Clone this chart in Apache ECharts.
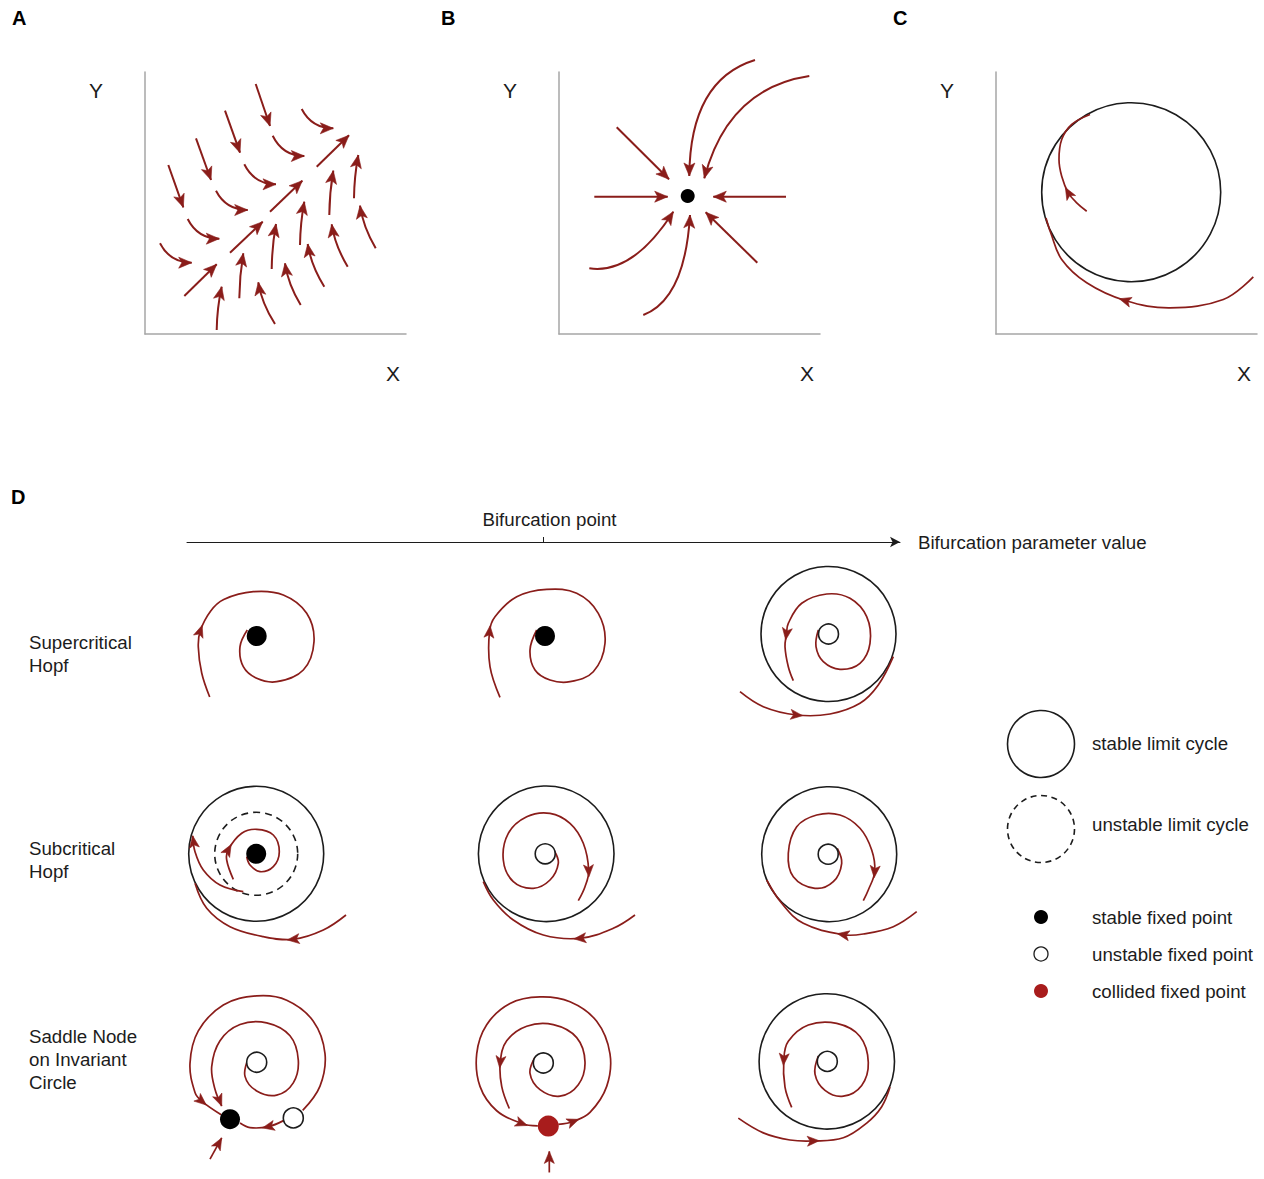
<!DOCTYPE html>
<html>
<head>
<meta charset="utf-8">
<title>Phase portraits and bifurcations</title>
<script src="https://cdn.jsdelivr.net/npm/echarts@6/dist/echarts.min.js"></script>
<style>
  html, body { margin: 0; padding: 0; background: #ffffff; }
  #chart { width: 1264px; height: 1179px; }
</style>
</head>
<body>
<div id="chart"></div>
<script>
// ---------------------------------------------------------------------------
// Data: every curve lives in the phase-plane units of its own panel
// (panels A-C: distance from the axis origin; panel D: offset from the cell
// centre, y pointing up).
// ---------------------------------------------------------------------------

// Panel A – flow field converging onto the diagonal (start, control, end)
const flowA = [
  [39.3, 38, 55.5, 53.9, 71.7, 69.7],
  [85, 81.3, 101.4, 96.8, 117.7, 112.3],
  [125, 122.3, 141.2, 137.8, 157.3, 153.3],
  [171.7, 167.3, 187.9, 183, 204, 198.7],
  [23.3, 169, 30.8, 147.9, 38.3, 126.7],
  [51, 195.7, 58.5, 174.9, 66, 154],
  [80, 223.3, 87.5, 202.3, 95, 181.3],
  [110.7, 250, 117.9, 229, 125, 208],
  [15, 90.7, 25, 71.3, 46.7, 71.3],
  [42.7, 115, 52.7, 95.3, 74.3, 95.3],
  [71, 143.3, 81, 124, 102.7, 124],
  [99.3, 169.7, 109.3, 149.7, 131, 149.7],
  [127.7, 198.3, 137.7, 178, 159.3, 178],
  [156.7, 225, 166.7, 205.7, 188.3, 205.7],
  [71.7, 4, 72, 26, 76.7, 47.3],
  [94.3, 35.7, 94.5, 58, 98.3, 80.7],
  [126.7, 65, 127, 88, 131, 110],
  [155, 89, 155.3, 111, 159.3, 132.3],
  [184.3, 119, 184.5, 141, 188.3, 163.3],
  [209, 135.7, 209.2, 157, 213.3, 179],
  [130, 10, 116.6, 31, 113.3, 51.7],
  [155.7, 29, 143.1, 49.8, 140, 70.7],
  [179.3, 47.3, 166, 68.6, 162.7, 90],
  [202.7, 67.3, 189.9, 88.5, 186.7, 109.7],
  [230.7, 85.7, 218.1, 107, 215, 128.3]
];

// Panel B – trajectories into a stable node
const flowB = [
  [35.3, 137.3, 72, 137.3, 108.7, 137.3],
  [227, 137.3, 190.7, 137.3, 154.3, 137.3],
  [57.7, 206.7, 83.9, 180.7, 110, 154.7],
  [198.3, 71.3, 172.5, 96.5, 146.7, 121.7],
  [196, 274, 131, 254, 130.3, 158],
  [250.3, 258, 168.7, 245.6, 145.3, 155.7],
  [30.3, 65.7, 73.8, 59.3, 114.3, 122.3],
  [84.3, 19, 126, 35, 131, 119]
];
const nodeB = [128.7, 138];

// Panel C – stable limit cycle approached from inside and outside
const cycleC = [135.2, 141.8, 89.5];
const innerC = [[90.7, 122.8], [80.7, 131.2], [72.3, 141.2], [65.7, 157.8], [63, 174.5], [65.7, 194.5], [75.7, 209.5], [94, 219.5]];
const outerC = [[257.3, 57.2], [227.3, 34.5], [174, 26.2], [129, 33.5], [90.7, 51.2], [65.7, 74.5], [54.7, 101.2], [50, 116]];

// Panel D – Supercritical Hopf
const supH1Spiral = [[-47, -61], [-55, -37], [-58.4, -11], [-56.5, 5], [-46, 25], [-33, 36.5], [-3.4, 44.3], [26.6, 41], [50, 22.7], [57.3, -5.7], [46.6, -34], [20, -45.7], [0, -42.3], [-13.4, -30.7], [-16.7, -10.7], [-9.4, 6]];
const supH2Spiral = [[-45, -61.3], [-55, -30.7], [-55.5, 4.3], [-50, 19.3], [-28.3, 39.3], [1.7, 46.7], [31.7, 42.7], [53.3, 22.7], [60, -7.3], [48.3, -35.7], [25, -45.7], [5, -44], [-10, -34], [-15, -14], [-8.3, 6]];
const supH3Spiral = [[-10.2, 4], [-12.5, -12.7], [-5.2, -27.7], [11.5, -35.3], [31.5, -29.3], [41.5, -9.3], [38.2, 17.3], [21.5, 35.7], [-1.8, 40], [-26.8, 30.7], [-40.2, 10.7], [-42, 0], [-43.5, -12.7], [-40.2, -32.7], [-35.2, -46.7]];
const supH3Outer = [[-88.5, -57.7], [-65.2, -72.7], [-31.8, -81], [1.5, -80], [31.5, -69.3], [49.8, -51], [64.8, -22.7]];

// Panel D – Subcritical Hopf
const subH1Inner = [[-22.9, -25.5], [-29.5, -6.2], [-28, 4], [-14.5, 20.5], [0.5, 24.5], [17.1, 18.8], [23.1, 2.1], [17.1, -12.9], [3.8, -17.9], [-6.2, -11.2], [-9.5, -2.9]];
const subH1Middle = [[-12.9, -37.9], [-36.2, -31.2], [-52.9, -16.2], [-61.2, 2.1], [-63.5, 18]];
const subH1Outer = [[89.8, -61.2], [67.1, -76.2], [37.1, -85.5], [7.1, -82.9], [-26.2, -72.9], [-49.5, -54.5], [-61.2, -29.5]];
const subH2Spiral = [[8, 3], [12.1, -9.5], [3.8, -26.2], [-12.9, -34.5], [-32.9, -27.9], [-42.9, -6.2], [-37.9, 20.5], [-19.5, 37.1], [3.8, 40.5], [23.8, 30.5], [37.1, 10.5], [42.5, -17], [38.8, -32.9], [32.1, -46.9]];
const subH2Outer = [[88.8, -61.2], [67.1, -74.5], [33.8, -84.5], [-2.9, -81.2], [-32.9, -66.2], [-52.9, -46.2], [-62.9, -27.9]];
const subH3Spiral = [[8.1, 5.9], [12.5, -9.1], [4.1, -27.5], [-14.2, -34.1], [-35.9, -22.5], [-40.9, 0.9], [-32.5, 27.5], [-12.5, 39.2], [10.8, 39.2], [30.8, 25.9], [42.5, 4.2], [45.5, -17.5], [39.1, -35.8], [34.1, -46.5]];
const subH3Outer = [[87.5, -57.5], [64.1, -72.5], [34.1, -79.8], [14, -80.5], [-25.9, -69.1], [-47.5, -49.1], [-62.5, -25.8]];

// Panel D – Saddle node on invariant circle
const snic1Outer = [[46, -49.5], [63.3, -24.5], [68.3, 8.8], [56.6, 42.2], [30, 63.8], [0, 68.2], [-33.4, 58.8], [-58.4, 32.2], [-66.7, -1.2], [-61.7, -31.2], [-55, -40], [-35.5, -54]];
const snic1Inner = [[-8.4, 3.8], [-11.7, -14.5], [0, -29.5], [20, -33.8], [36.6, -21.2], [41.6, 2.2], [33.3, 27.2], [10, 40.5], [-16.7, 38.8], [-36.7, 22.2], [-45, -4.5], [-41.7, -27.8], [-35, -45]];
const snic1Bottom = [[26.8, -60], [11.6, -66.2], [-6.7, -67.2], [-16.7, -62.5]];
const snic1Entry = [[-46.7, -99.5], [-35, -77.8]];
const snic2Outer = [[15, -64], [30, -61], [46.7, -51.7], [63.4, -25], [66.7, 8.3], [53.4, 41.7], [26.7, 61.7], [-3.3, 66.7], [-33.3, 60], [-56.6, 38.3], [-66.6, 8.3], [-63.3, -25], [-46.6, -50], [-21.6, -63], [-5.5, -65.5]];
const snic2Inner = [[-8.3, 5], [-13.3, -11.7], [-3.3, -28.3], [16.7, -35], [35, -23.3], [41.7, 0], [33.4, 25], [10, 38.3], [-16.6, 36.7], [-36.6, 21.7], [-43, 0], [-41.6, -25], [-34, -47.7]];
const snic2Entry = [[6, -113.3], [6, -91.7]];
const snic3Spiral = [[-8.5, 5.5], [-11.8, -12.9], [-1.8, -29.5], [16.5, -35.5], [34.9, -24.5], [41.5, -1.2], [33.2, 25.5], [9.9, 38.8], [-18.5, 37.1], [-38.5, 20.5], [-43, 2], [-41.8, -26.2], [-35.1, -46.9]];
const snic3Outer = [[-88.5, -57.9], [-63.5, -72.9], [-36.8, -80.2], [-13.5, -81.2], [16.5, -77.9], [39.9, -62.9], [54.9, -46.2], [63.2, -26.2]];

// Limit cycle radii and fixed points of each cell
const cycleRadii = {
  supH3: [67.5], subH1: [67.5], subH2: [67.8], subH3: [67.5], snic3: [67.7]
};
const unstableCycleRadii = { subH1: [41.5] };
const fixedPoints = {
  supH1: [[0, 0, 'stable']],
  supH2: [[0, 0, 'stable']],
  supH3: [[0, 0, 'unstable']],
  subH1: [[0, 0, 'stable']],
  subH2: [[-1, 0, 'unstable']],
  subH3: [[-1, 0, 'unstable']],
  snic1: [[0, 0, 'unstable'], [-26.7, -58.5, 'stable'], [36.6, -57.2, 'unstable']],
  snic2: [[0, -1, 'unstable'], [5, -65.7, 'collided']],
  snic3: [[0.5, 0, 'unstable']]
};

// Texts
const panelLetters = ['A', 'B', 'C', 'D'];
const rowLabels = ['Supercritical\nHopf', 'Subcritical\nHopf', 'Saddle Node\non Invariant\nCircle'];
const legendLabels = ['stable limit cycle', 'unstable limit cycle', 'stable fixed point', 'unstable fixed point', 'collided fixed point'];
const bifurcationTicks = [0.5];
const bifurcationTickLabels = ['Bifurcation point'];
const bifurcationAxisName = 'Bifurcation parameter value';

// ---------------------------------------------------------------------------
// Layout and styles
// ---------------------------------------------------------------------------
const FONT = '"Liberation Sans", Arial, Helvetica, sans-serif';
const RED = '#8a1d1a';
const RED_DOT = '#a81c1c';
const INK = '#1c1c1c';
const AXIS_GREY = '#a6a6a6';
const HEAD_BIG = { L: 13, W: 11 };
const HEAD_SMALL = { L: 12, W: 10 };

const panelBoxes = [
  { left: 145, top: 72, width: 261, height: 262 },
  { left: 559, top: 72, width: 261, height: 262 },
  { left: 996, top: 72, width: 261, height: 262 }
];
const cellCenters = {
  supH1: [256.7, 636], supH2: [545, 636], supH3: [828.5, 634],
  subH1: [256.2, 853.8], subH2: [546.2, 853.8], subH3: [829.2, 854.2],
  snic1: [256.7, 1065.5], snic2: [543.3, 1065], snic3: [826.8, 1063.8]
};
const CELL_HALF = 120;

// ---------------------------------------------------------------------------
// Drawing helpers (all positions go through api.coord of the owning grid)
// ---------------------------------------------------------------------------
function arrowHead(tip, ang, head, color) {
  const c = Math.cos(ang), s = Math.sin(ang);
  const pt = (u, v) => [tip[0] + u * c - v * s, tip[1] + u * s + v * c];
  return {
    type: 'polygon',
    shape: { points: [pt(0, 0), pt(-head.L, head.W / 2), pt(-0.76 * head.L, 0), pt(-head.L, -head.W / 2)] },
    style: { fill: color || RED, stroke: color || RED, lineWidth: 0.6, lineJoin: 'miter' }
  };
}

function drawItem(item, api) {
  if (item.kind === 'quad') {
    const q = item.q;
    const p0 = api.coord([q[0], q[1]]), c = api.coord([q[2], q[3]]), p1 = api.coord([q[4], q[5]]);
    const ang = Math.atan2(p1[1] - c[1], p1[0] - c[0]);
    return {
      type: 'group', children: [
        { type: 'bezierCurve', shape: { x1: p0[0], y1: p0[1], cpx1: c[0], cpy1: c[1], x2: p1[0], y2: p1[1] },
          style: { stroke: RED, lineWidth: item.lw, fill: 'none' } },
        arrowHead(p1, ang, item.head)
      ]
    };
  }
  if (item.kind === 'path') {
    const P = item.pts.map(p => api.coord(p));
    const kids = [{
      type: 'polyline', shape: { points: P, smooth: item.pts.length > 2 ? 0.38 : 0 },
      style: { stroke: RED, lineWidth: item.lw, fill: 'none' }
    }];
    item.arrows.forEach(k => {
      const last = P.length - 1;
      const a = P[Math.max(k - 1, 0)], b = P[Math.min(k + 1, last)];
      const ang = Math.atan2(b[1] - a[1], b[0] - a[0]);
      const tip = k === last ? P[k]
        : [P[k][0] + Math.cos(ang) * item.head.L * 0.5, P[k][1] + Math.sin(ang) * item.head.L * 0.5];
      kids.push(arrowHead(tip, ang, item.head));
    });
    return { type: 'group', children: kids };
  }
  if (item.kind === 'cycle') {
    const o = api.coord(item.at);
    const r = api.size([item.r, 0])[0];
    return {
      type: 'circle', shape: { cx: o[0], cy: o[1], r: r },
      style: { fill: 'none', stroke: INK, lineWidth: 1.6, lineDash: item.dashed ? [7, 5] : null }
    };
  }
  if (item.kind === 'node') {
    const o = api.coord(item.at);
    const style = item.type === 'stable' ? { fill: '#000', stroke: 'none' }
      : item.type === 'collided' ? { fill: RED_DOT, stroke: 'none' }
      : { fill: '#fff', stroke: INK, lineWidth: 1.6 };
    return { type: 'circle', shape: { cx: o[0], cy: o[1], r: item.r }, style: style };
  }
  return null;
}

const grids = [], xAxes = [], yAxes = [], series = [];

function addPlane(box, xr, yr, showAxes) {
  const idx = grids.length;
  grids.push(Object.assign({ show: false, containLabel: false }, box));
  const axisBase = {
    gridIndex: idx, type: 'value', show: showAxes,
    axisLine: { show: true, onZero: false, lineStyle: { color: AXIS_GREY, width: 1.5 } },
    axisTick: { show: false }, axisLabel: { show: false }, splitLine: { show: false }
  };
  xAxes.push(Object.assign({}, axisBase, { min: xr[0], max: xr[1] }));
  yAxes.push(Object.assign({}, axisBase, { min: yr[0], max: yr[1] }));
  return idx;
}

function addLayer(idx, items) {
  series.push({
    type: 'custom', coordinateSystem: 'cartesian2d',
    xAxisIndex: idx, yAxisIndex: idx, silent: true, clip: false, animation: false,
    data: items.map(() => [0, 0]),
    renderItem: (params, api) => drawItem(items[params.dataIndex], api)
  });
}

const path = (pts, arrows, head, lw) => ({ kind: 'path', pts, arrows, head: head || HEAD_SMALL, lw: lw || 1.7 });

// Panels A, B, C
const gA = addPlane(panelBoxes[0], [0, 261], [0, 262], true);
addLayer(gA, flowA.map(q => ({ kind: 'quad', q, head: HEAD_BIG, lw: 2 })));

const gB = addPlane(panelBoxes[1], [0, 261], [0, 262], true);
addLayer(gB, flowB.map(q => ({ kind: 'quad', q, head: HEAD_BIG, lw: 2 }))
  .concat([{ kind: 'node', at: nodeB, type: 'stable', r: 7 }]));

const gC = addPlane(panelBoxes[2], [0, 261], [0, 262], true);
addLayer(gC, [
  { kind: 'cycle', at: [cycleC[0], cycleC[1]], r: cycleC[2] },
  path(innerC, [2]),
  path(outerC, [3])
]);

// Panel D cells
const cellPaths = {
  supH1: [path(supH1Spiral, [3])],
  supH2: [path(supH2Spiral, [2])],
  supH3: [path(supH3Spiral, [11]), path(supH3Outer, [2])],
  subH1: [path(subH1Inner, [2]), path(subH1Middle, [4]), path(subH1Outer, [2])],
  subH2: [path(subH2Spiral, [11]), path(subH2Outer, [2])],
  subH3: [path(subH3Spiral, [11]), path(subH3Outer, [3])],
  snic1: [path(snic1Outer, [10]), path(snic1Inner, [12]), path(snic1Bottom, [1]), path(snic1Entry, [1])],
  snic2: [path(snic2Outer, [1, 13]), path(snic2Inner, [10]), path(snic2Entry, [1])],
  snic3: [path(snic3Spiral, [10]), path(snic3Outer, [3])]
};

Object.keys(cellCenters).forEach(key => {
  const c = cellCenters[key];
  const idx = addPlane({ left: c[0] - CELL_HALF, top: c[1] - CELL_HALF, width: 2 * CELL_HALF, height: 2 * CELL_HALF },
    [-CELL_HALF, CELL_HALF], [-CELL_HALF, CELL_HALF], false);
  const items = [];
  (cycleRadii[key] || []).forEach(r => items.push({ kind: 'cycle', at: [0, 0], r }));
  (unstableCycleRadii[key] || []).forEach(r => items.push({ kind: 'cycle', at: [0, 0], r, dashed: true }));
  cellPaths[key].forEach(p => items.push(p));
  fixedPoints[key].forEach(p => items.push({ kind: 'node', at: [p[0], p[1]], type: p[2], r: p[2] === 'collided' ? 10.5 : 10 }));
  addLayer(idx, items);
});

// Bifurcation parameter axis
const gBif = grids.length;
grids.push({ show: false, left: 187, top: 541, width: 713, height: 1 });
xAxes.push({
  gridIndex: gBif, type: 'value', position: 'top', min: 0, max: 1,
  axisLine: { show: true, symbol: ['none', 'arrow'], symbolSize: [8, 10], lineStyle: { color: INK, width: 1 } },
  axisTick: { show: true, length: 5, customValues: bifurcationTicks, lineStyle: { color: INK, width: 1 } },
  axisLabel: {
    show: true, customValues: bifurcationTicks, margin: 12, padding: [0, 0, 0, 12],
    formatter: v => bifurcationTickLabels[bifurcationTicks.indexOf(v)] || '',
    fontSize: 18.7, fontFamily: FONT, color: INK
  },
  splitLine: { show: false },
  name: bifurcationAxisName, nameLocation: 'end', nameGap: 18,
  nameTextStyle: { fontSize: 18.7, fontFamily: FONT, color: INK }
});
yAxes.push({ gridIndex: gBif, type: 'value', show: false, min: 0, max: 1 });

// ---------------------------------------------------------------------------
// Annotations: panel letters, axis names, row labels, key
// ---------------------------------------------------------------------------
const letterPos = [[12, 18], [441, 18], [893, 18], [11, 497]];
const rowLabelTop = [642, 848, 1036];
const keyRows = [744, 829, 917, 954, 991];
const keyTextY = [743, 824, 917, 954, 991];
const KEY_X = 1041, KEY_TEXT_X = 1092;

const graphic = [];
panelLetters.forEach((t, i) => graphic.push({
  type: 'text', x: letterPos[i][0], y: letterPos[i][1], silent: true,
  style: { text: t, fontSize: 20, fontWeight: 'bold', fontFamily: FONT, fill: '#000', align: 'left', verticalAlign: 'middle' }
}));
panelBoxes.forEach(b => {
  graphic.push({ type: 'text', x: b.left - 49, y: 90, silent: true,
    style: { text: 'Y', fontSize: 21, fontFamily: FONT, fill: INK, align: 'center', verticalAlign: 'middle' } });
  graphic.push({ type: 'text', x: b.left + 248, y: 373, silent: true,
    style: { text: 'X', fontSize: 21, fontFamily: FONT, fill: INK, align: 'center', verticalAlign: 'middle' } });
});
rowLabels.forEach((t, i) => graphic.push({
  type: 'text', x: 29, y: rowLabelTop[i] - 11.5, silent: true,
  style: { text: t, fontSize: 18.7, lineHeight: 23, fontFamily: FONT, fill: INK, align: 'left', verticalAlign: 'top' }
}));
// key symbols
graphic.push({ type: 'circle', silent: true, shape: { cx: KEY_X, cy: keyRows[0], r: 33.5 },
  style: { fill: 'none', stroke: INK, lineWidth: 1.6 } });
graphic.push({ type: 'circle', silent: true, shape: { cx: KEY_X, cy: keyRows[1], r: 33.5 },
  style: { fill: 'none', stroke: INK, lineWidth: 1.6, lineDash: [6, 4.5] } });
graphic.push({ type: 'circle', silent: true, shape: { cx: KEY_X, cy: keyRows[2], r: 7 },
  style: { fill: '#000', stroke: 'none' } });
graphic.push({ type: 'circle', silent: true, shape: { cx: KEY_X, cy: keyRows[3], r: 7 },
  style: { fill: '#fff', stroke: INK, lineWidth: 1.3 } });
graphic.push({ type: 'circle', silent: true, shape: { cx: KEY_X, cy: keyRows[4], r: 7 },
  style: { fill: RED_DOT, stroke: 'none' } });
legendLabels.forEach((t, i) => graphic.push({
  type: 'text', x: KEY_TEXT_X, y: keyTextY[i], silent: true,
  style: { text: t, fontSize: 18.7, fontFamily: FONT, fill: INK, align: 'left', verticalAlign: 'middle' }
}));

const chart = echarts.init(document.getElementById('chart'), null, { renderer: 'svg', width: 1264, height: 1179 });
chart.setOption({
  animation: false,
  backgroundColor: '#ffffff',
  grid: grids,
  xAxis: xAxes,
  yAxis: yAxes,
  series: series,
  graphic: graphic
});
</script>
</body>
</html>
